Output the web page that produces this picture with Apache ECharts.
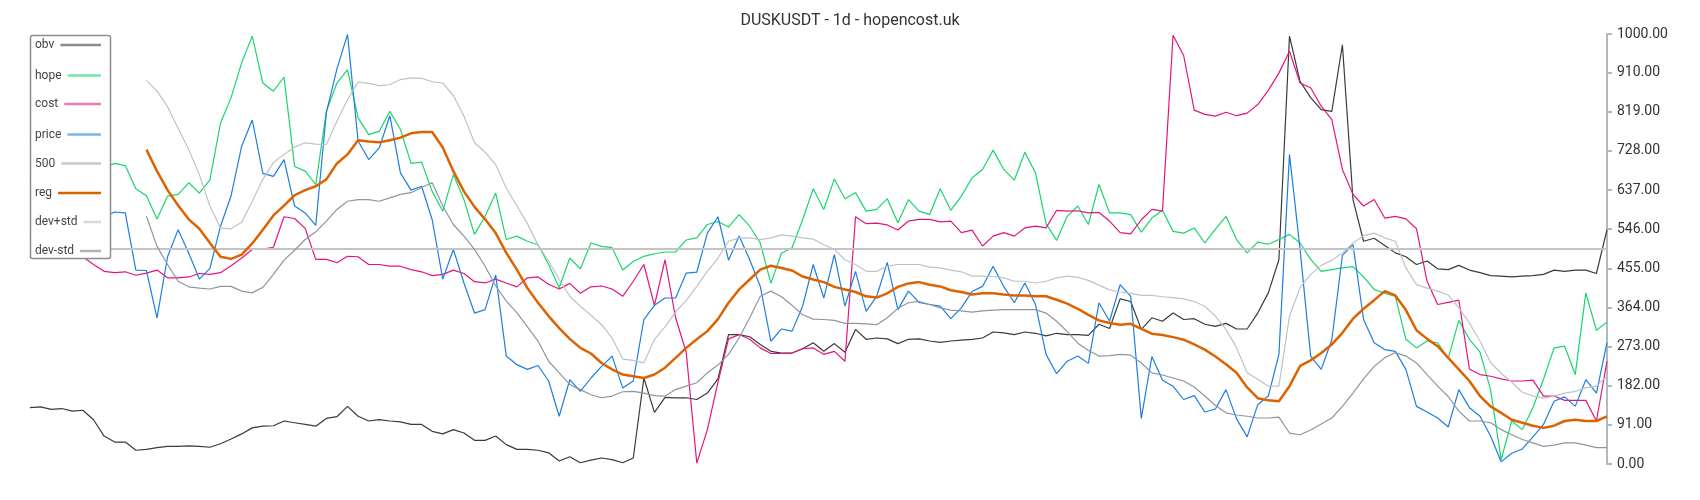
<!DOCTYPE html>
<html>
<head>
<meta charset="utf-8">
<script src="https://cdn.jsdelivr.net/npm/echarts@6/dist/echarts.min.js"></script>
<style>
html,body{margin:0;padding:0;background:#fff;}
#chart{width:1700px;height:500px;}
</style>
</head>
<body>
<div id="chart"></div>
<script>
// ---- data ----
const categories = Array.from({length: 150}, (_, i) => 'D' + (i + 1));

const obv = [
131,133,127,129,123,125,103,65,51,51,
32,34,38,41,41,42,41,39,47,58,
70,84,88,89,100,96,92,88,106,110,
134,111,100,103,100,98,92,92,76,70,
80,72,55,55,65,45,34,34,32,26,
7,17,3,9,14,10,3,14,200,120,
155,154,154,150,165,198,301,301,296,278,
262,258,258,268,282,262,280,260,313,290,
293,291,280,290,291,286,283,286,288,290,
293,307,305,301,307,304,298,304,301,301,
299,325,315,384,378,313,340,332,351,336,
338,325,320,327,314,314,351,398,475,995,
890,852,824,820,975,615,518,525,508,491,
482,464,472,454,452,462,451,445,438,437,
435,437,438,441,451,448,451,451,443,545
];

const hope = [
760,740,770,720,735,700,715,690,699,694,
640,624,570,623,627,654,630,661,793,852,
933,995,886,867,900,692,681,650,820,886,
917,805,766,774,820,778,699,702,634,588,
673,615,534,576,630,522,530,518,510,464,
410,479,454,514,506,503,451,471,483,489,
493,493,521,526,557,564,551,580,553,514,
420,490,503,568,640,592,663,617,631,588,
592,617,561,615,588,580,640,590,623,665,
685,730,685,660,725,677,559,520,576,600,
557,650,584,584,580,539,572,590,541,537,
549,514,546,576,522,491,516,511,522,534,
514,476,448,452,456,459,435,406,397,390,
290,270,286,282,245,334,290,260,173,10,
100,80,131,197,270,274,208,398,311,330
];

const cost = [
540,530,520,505,495,482,464,448,445,447,
439,444,451,433,433,435,443,441,445,461,
479,499,500,504,575,571,548,476,476,468,
483,482,464,464,460,460,452,447,438,441,
451,443,424,421,430,421,412,433,435,418,
407,420,397,412,414,407,390,425,464,369,
475,340,260,2,80,190,291,301,290,270,
257,257,258,268,270,255,262,239,575,559,
560,556,544,565,569,569,563,565,538,544,
507,530,538,530,549,553,549,590,588,589,
584,585,565,538,535,568,592,588,997,950,
823,813,809,818,810,816,836,869,909,960,
886,875,832,801,685,627,600,615,572,576,
570,547,425,371,376,381,221,208,204,198,
193,193,195,158,158,148,148,148,100,239
];

const price = [
660,640,650,610,620,590,600,575,586,584,
451,450,340,482,545,490,430,455,553,624,
739,800,676,669,708,600,584,555,817,919,
999,751,708,735,810,677,637,646,568,430,
499,421,351,359,440,251,231,220,229,193,
111,196,169,200,227,251,177,193,336,369,
386,386,444,446,537,575,474,530,475,413,
285,314,309,367,464,386,487,367,448,355,
390,469,359,402,376,371,367,338,363,401,
413,460,413,375,421,371,255,210,239,251,
234,375,332,417,390,106,250,195,181,150,
159,121,128,173,105,63,138,158,255,720,
499,251,220,289,485,510,336,282,266,262,
220,134,121,107,86,173,131,111,65,5,
25,35,63,92,146,156,134,196,165,282
];

const level500 = [500, 500];

const reg = [
null,null,null,null,null,null,null,null,null,null,
null,731,681,637,601,569,547,514,482,477,
487,513,545,578,601,625,637,646,662,699,
720,753,750,748,753,759,769,772,772,736,
681,634,598,569,537,491,452,409,375,344,
316,291,270,257,235,220,208,204,200,208,
224,247,270,290,309,337,375,406,429,452,
461,456,450,436,429,423,412,406,400,390,
387,397,412,420,423,417,413,404,400,394,
397,397,394,392,392,390,390,382,373,361,
347,334,328,324,326,314,303,300,295,289,
278,266,250,232,212,178,153,148,146,181,
228,241,258,278,305,338,361,381,402,392,
358,311,291,274,247,220,193,158,134,119,
103,96,89,84,89,100,103,100,100,111
];

const devPlus = [
null,null,null,null,null,null,null,null,null,null,
null,892,867,831,780,731,673,600,549,547,
562,611,662,701,720,737,747,744,743,797,
847,888,885,880,882,894,898,897,889,886,
857,809,747,725,696,642,600,559,509,472,
429,390,367,346,324,293,244,241,235,290,
319,354,380,413,448,479,518,526,526,522,
526,533,530,526,523,510,499,475,464,448,
448,460,464,464,464,458,456,451,447,437,
437,436,433,425,425,421,425,433,437,434,
427,416,405,400,397,392,392,389,387,384,
378,367,344,313,270,212,197,181,181,344,
410,441,462,474,491,514,531,537,526,518,
456,417,409,402,393,363,328,286,236,211,
190,167,158,153,158,165,169,177,181,204
];

const devMinus = [
null,null,null,null,null,null,null,null,null,null,
null,576,506,464,425,412,409,407,413,413,
402,398,411,441,474,497,522,540,565,592,
611,615,615,611,619,627,631,643,654,600,
557,530,499,460,414,379,352,319,286,239,
212,185,173,161,154,158,168,169,165,159,
158,173,181,189,212,230,255,293,340,390,
402,389,369,347,337,336,334,327,327,326,
324,340,362,375,378,371,363,358,356,353,
356,358,359,359,359,359,351,332,308,281,
264,251,252,255,253,235,212,207,200,193,
179,158,136,119,114,111,107,107,109,72,
68,79,93,107,134,165,198,227,247,259,
251,235,208,181,157,123,100,100,96,80,
68,57,49,41,44,49,49,44,38,38
];

const yMin = 0, yMax = 1000, yInterval = 91;
const titleText = 'DUSKUSDT - 1d - hopencost.uk';

// ---- styles ----
const seriesDefs = [
  {name: 'obv',     data: obv,      color: '#3a3a3a', legendColor: '#8c8c8c', width: 1.2},
  {name: 'hope',    data: hope,     color: '#18d66c', legendColor: '#74e8a4', width: 1.2},
  {name: 'cost',    data: cost,     color: '#e5147c', legendColor: '#ee78b6', width: 1.2},
  {name: 'price',   data: price,    color: '#1c7ee0', legendColor: '#79b6ee', width: 1.2},
  {name: '500',     data: [[0, level500[0]], [categories.length - 1, level500[1]]], color: '#c4c4c4', legendColor: '#c8c8c8', width: 2},
  {name: 'reg',     data: reg,      color: '#dd6200', legendColor: '#d66200', width: 2.5},
  {name: 'dev+std', data: devPlus,  color: '#bcc3ca', legendColor: '#d2d8de', width: 1.2},
  {name: 'dev-std', data: devMinus, color: '#8c96a0', legendColor: '#aab2ba', width: 1.2}
];

const chart = echarts.init(document.getElementById('chart'), null, {renderer: 'canvas'});

// legend drawn as a box: text on the left, line filling to the right edge
const ctx = document.createElement('canvas').getContext('2d');
ctx.font = '12px Roboto';
const legendYs = [45, 75.5, 104, 134.5, 163.5, 193, 222, 251];
const legendGraphics = [{
  type: 'rect', z: 100,
  shape: {x: 30.5, y: 35.5, width: 80, height: 223, r: 2},
  style: {fill: '#ffffff', stroke: '#8c8c8c', lineWidth: 1.5}
}];
seriesDefs.forEach((s, k) => {
  const w = ctx.measureText(s.name).width;
  legendGraphics.push({
    type: 'text', z: 101, x: 35, y: legendYs[k],
    style: {text: s.name, fontSize: 12, fontFamily: 'Roboto', fill: '#444', verticalAlign: 'middle', align: 'left'}
  });
  legendGraphics.push({
    type: 'line', z: 101,
    shape: {x1: 35 + w + 6, y1: legendYs[k], x2: 101, y2: legendYs[k]},
    style: {stroke: s.legendColor, lineWidth: 2.5}
  });
});

const option = {
  animation: false,
  backgroundColor: '#ffffff',
  textStyle: {fontFamily: 'Roboto'},
  title: {
    text: titleText, left: 'center', top: 8,
    textStyle: {fontSize: 16, fontWeight: 'normal', color: '#333', fontFamily: 'Roboto'}
  },
  grid: {left: 30, right: 93, top: 34, bottom: 36},
  xAxis: {type: 'category', data: categories, boundaryGap: false, show: false},
  yAxis: {
    type: 'value', position: 'right', min: yMin, max: yMax, interval: yInterval,
    axisLine: {show: true, lineStyle: {color: '#b0b8c0', width: 2}},
    axisTick: {show: true, length: 5, lineStyle: {color: '#b0b8c0', width: 2}},
    axisLabel: {margin: 10, fontSize: 14, color: '#333', fontFamily: 'Roboto', formatter: v => v.toFixed(2)},
    splitLine: {show: false}
  },
  graphic: legendGraphics,
  series: seriesDefs.map(s => ({
    name: s.name, type: 'line', data: s.data, showSymbol: false, symbol: 'none',
    lineStyle: {color: s.color, width: s.width}, itemStyle: {color: s.color},
    emphasis: {disabled: true}
  }))
};
chart.setOption(option);
</script>
</body>
</html>
